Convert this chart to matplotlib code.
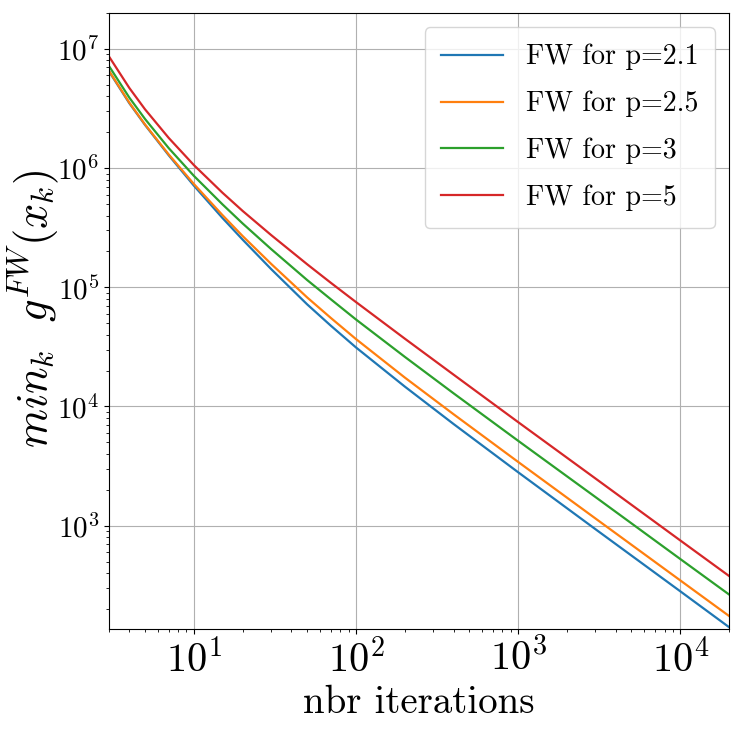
import matplotlib
matplotlib.use('Agg')
import matplotlib.pyplot as plt

plt.rcParams['font.family'] = ['cmr10', 'DejaVu Sans']
plt.rcParams['mathtext.fontset'] = 'cm'
plt.rcParams['axes.formatter.use_mathtext'] = True

iters = [3, 4, 5, 7, 10, 15, 20, 30, 50, 70, 100, 200, 400, 1000, 3000, 10000, 20000]

fw_p21 = [6.46e6, 3.50e6, 2.30e6, 1.28e6, 7.13e5, 3.82e5, 2.51e5, 1.42e5, 7.19e4, 4.76e4,
          3.13e4, 1.47e4, 7.13e3, 2.81e3, 935, 282, 141]
fw_p25 = [6.53e6, 3.54e6, 2.32e6, 1.30e6, 7.36e5, 4.04e5, 2.69e5, 1.57e5, 8.22e4, 5.53e4,
          3.68e4, 1.75e4, 8.61e3, 3.43e3, 1.15e3, 348, 175]
fw_p3 = [7.16e6, 3.90e6, 2.58e6, 1.47e6, 8.61e5, 4.97e5, 3.43e5, 2.09e5, 1.15e5, 7.93e4,
         5.37e4, 2.61e4, 1.29e4, 5.16e3, 1.74e3, 526, 265]
fw_p5 = [8.61e6, 4.70e6, 3.11e6, 1.79e6, 1.06e6, 6.22e5, 4.37e5, 2.74e5, 1.56e5, 1.09e5,
         7.52e4, 3.71e4, 1.85e4, 7.40e3, 2.49e3, 753, 379]

labels = ['FW for p=2.1', 'FW for p=2.5', 'FW for p=3', 'FW for p=5']

fig = plt.figure(figsize=(7.42, 7.38), dpi=100)
ax = fig.add_axes([0.147, 0.1477, 0.8355, 0.8347])

for ys, lab in zip([fw_p21, fw_p25, fw_p3, fw_p5], labels):
    ax.loglog(iters, ys, label=lab, linewidth=1.6)

ax.set_xlim(3, 2e4)
ax.set_ylim(136, 2e7)
ax.grid(True)
ax.tick_params(axis='x', labelsize=29)
ax.tick_params(axis='y', labelsize=21)
ax.set_xlabel('nbr iterations', fontsize=28)
ax.set_ylabel(r'$min_k\ \ g^{FW}(x_k)$', fontsize=32)
ax.yaxis.set_label_coords(-0.078, 0.52)
ax.legend(fontsize=20.2, loc='upper right', labelspacing=0.73, borderpad=0.6,
          handlelength=2.2)

fig.savefig('out.png')
